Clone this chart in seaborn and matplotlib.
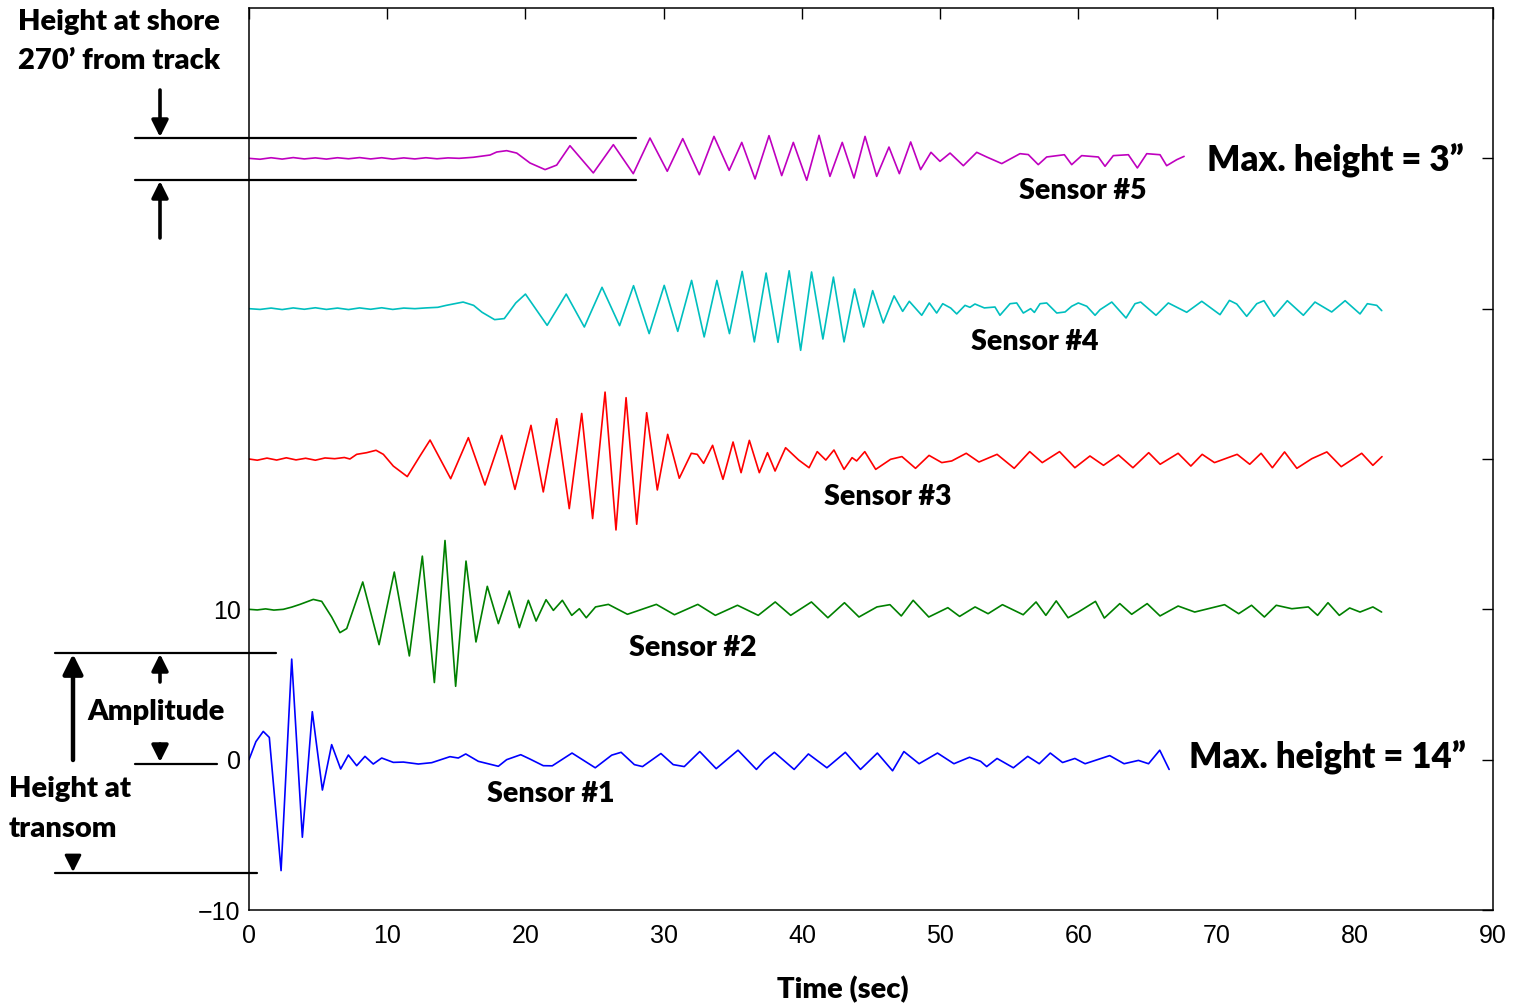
import numpy as np
import pandas as pd
import matplotlib
matplotlib.use("Agg")
import matplotlib.pyplot as plt
import seaborn as sns
from matplotlib.lines import Line2D

# ── Wave heights (time in sec, height relative to each trace) ──
t1 = [0, 0.5, 1.03, 1.47, 2.32, 3.09, 3.86, 4.58, 5.31, 5.98, 6.63, 7.19, 7.79, 8.39, 8.99,
      9.6, 10.44, 11.17, 12.25, 13.22, 14.54, 15.14, 15.68, 16.59, 18.04, 18.64, 19.66, 20.33,
      21.29, 21.94, 23.37, 25.05, 26.24, 26.92, 27.88, 28.47, 29.8, 30.69, 31.49, 32.61, 33.8,
      35.38, 36.71, 37.3, 38.01, 39.44, 40.47, 41.81, 43.14, 44.24, 45.46, 46.56, 47.38, 48.48,
      49.81, 51.0, 52.13, 52.93, 53.37, 54.12, 55.3, 56.34, 57.17, 57.97, 58.86, 59.75, 60.49,
      62.27, 63.31, 64.35, 65.08, 65.89, 66.57]
v1 = [0, 1.2, 1.88, 1.48, -7.38, 6.69, -5.16, 3.19, -2.02, 1.0, -0.62, 0.31, -0.40, 0.22, -0.29,
      0.11, -0.18, -0.16, -0.29, -0.2, 0.2, 0.11, 0.38, -0.11, -0.44, 0, 0.33, 0.04,
      -0.4, -0.41, 0.44, -0.54, 0.3, 0.49, -0.33, -0.46, 0.41, -0.33, -0.46, 0.54, -0.6,
      0.63, -0.65, -0.05, 0.49, -0.65, 0.38, -0.54, 0.49, -0.65, 0.44, -0.74, 0.54, -0.27,
      0.44, -0.27, 0.16, -0.11, -0.46, 0.08, -0.54, 0.22, -0.27, 0.44, -0.19, 0.08, -0.27,
      0.27, -0.27, -0.05, -0.27, 0.63, -0.65]

t2 = [0, 0.6, 1.2, 1.8, 2.48, 3.1, 3.69, 4.65, 5.26, 5.98, 6.58, 7.07, 8.23, 9.41, 10.51, 11.6,
      12.54, 13.41, 14.18, 14.95, 15.7, 16.42, 17.24, 18.04, 18.83, 19.56, 20.21, 20.77, 21.49,
      22.02, 22.67, 23.35, 23.9, 24.4, 25.07, 26.0, 27.38, 29.47, 30.78, 32.47, 33.74, 35.34,
      36.84, 38.07, 39.19, 40.69, 41.88, 43.08, 44.13, 45.43, 46.37, 47.19, 48.05, 49.18, 50.56,
      51.41, 52.53, 53.47, 54.51, 56.01, 56.94, 57.65, 58.4, 59.26, 60.0, 61.24, 61.88, 63.0,
      63.86, 64.98, 65.91, 67.22, 68.42, 70.58, 71.6, 72.53, 73.46, 74.32, 75.45, 76.64, 77.31,
      78.06, 78.88, 79.63, 80.38, 81.31, 81.94]
v2 = [0, -0.04, 0.03, -0.05, 0.0, 0.15, 0.33, 0.66, 0.53, -0.51, -1.55, -1.28, 1.82, -2.35, 2.48,
      -3.1, 3.54, -4.87, 4.58, -5.12, 3.21, -2.17, 1.53, -0.95, 1.22, -1.22, 0.6, -0.78, 0.64,
      -0.07, 0.6, -0.4, 0.04, -0.56, 0.16, 0.33, -0.33, 0.33, -0.36, 0.33, -0.4, 0.27, -0.4,
      0.49, -0.4, 0.49, -0.56, 0.44, -0.51, 0.16, 0.31, -0.44, 0.6, -0.51, 0.11, -0.47, 0.16,
      -0.29, 0.31, -0.36, 0.49, -0.4, 0.56, -0.56, -0.18, 0.53, -0.58, 0.38, -0.33, 0.38, -0.44,
      0.22, -0.18, 0.31, -0.29, 0.27, -0.51, 0.27, 0.04, 0.16, -0.4, 0.44, -0.4, 0.09, -0.18,
      0.16, -0.18]

t3 = [0, 0.6, 1.3, 2.0, 2.7, 3.4, 4.1, 4.8, 5.5, 6.2, 6.9, 7.3, 7.79, 8.51, 9.19, 9.72, 10.44,
      11.45, 12.37, 13.1, 14.59, 15.87, 17.07, 18.28, 19.24, 20.4, 21.29, 22.26, 23.17, 24.07,
      24.86, 25.76, 26.55, 27.28, 28.05, 28.77, 29.54, 30.29, 31.13, 32.0, 32.43, 32.89, 33.54,
      34.29, 35.02, 35.6, 36.2, 36.92, 37.51, 38.06, 38.82, 39.77, 40.52, 41.11, 41.73, 42.32,
      43.05, 43.63, 43.96, 44.55, 45.34, 46.42, 47.24, 48.22, 49.2, 50.12, 50.84, 51.89, 52.81,
      54.12, 55.36, 56.48, 57.39, 58.64, 59.75, 60.84, 61.82, 62.9, 63.95, 65.09, 65.92, 67.22,
      68.14, 68.96, 69.85, 71.49, 72.4, 73.22, 74.04, 74.92, 75.81, 76.89, 77.98, 79.02, 80.5,
      81.31, 81.97]
v3 = [0, -0.08, 0.06, -0.07, 0.08, -0.06, 0.05, -0.08, 0.07, 0.02, 0.1, 0.0, 0.31, 0.42, 0.58,
      0.31, -0.47, -1.17, 0.2, 1.26, -1.31, 1.42, -1.73, 1.57, -2.02, 2.24, -2.19, 2.68, -3.3,
      3.03, -3.96, 4.45, -4.72, 4.08, -4.34, 3.08, -2.06, 1.64, -1.28, 0.38, 0.31, -0.29, 0.91,
      -1.35, 1.13, -0.91, 1.24, -0.91, 0.42, -0.8, 0.75, -0.07, -0.58, 0.49, -0.07, 0.6, -0.69,
      0.09, -0.13, 0.49, -0.69, -0.02, 0.16, -0.62, 0.24, -0.24, -0.13, 0.38, -0.2, 0.31, -0.62,
      0.49, -0.24, 0.49, -0.58, 0.2, -0.42, 0.27, -0.58, 0.42, -0.35, 0.38, -0.47, 0.31, -0.24,
      0.31, -0.35, 0.38, -0.58, 0.47, -0.62, 0.02, 0.47, -0.51, 0.38, -0.42, 0.16]

t4 = [0, 0.8, 1.6, 2.4, 3.2, 4.0, 4.8, 5.6, 6.4, 7.2, 8.0, 8.8, 9.6, 10.4, 11.2, 12.0, 12.8,
      13.66, 14.27, 15.49, 16.25, 16.86, 17.77, 18.47, 19.3, 20.0, 21.57, 22.95, 24.26, 25.54,
      26.81, 27.82, 28.95, 30.04, 31.02, 32.02, 32.93, 33.85, 34.76, 35.68, 36.56, 37.41, 38.27,
      39.08, 39.91, 40.7, 41.52, 42.28, 43.05, 43.81, 44.47, 45.12, 45.89, 46.67, 47.29, 47.77,
      48.67, 49.22, 49.75, 50.19, 50.77, 51.2, 51.8, 52.16, 52.52, 53.2, 53.97, 54.33, 55.06,
      55.54, 56.02, 56.55, 56.82, 57.23, 57.71, 58.44, 59.04, 59.52, 60.0, 60.61, 61.21, 61.57,
      62.42, 63.45, 64.1, 64.51, 65.62, 66.51, 67.84, 68.93, 70.25, 70.93, 71.46, 72.18, 72.91,
      73.43, 74.16, 75.12, 76.28, 77.12, 78.33, 79.3, 80.38, 80.91, 81.59, 81.95]
v4 = [0, -0.05, 0.04, -0.06, 0.05, -0.04, 0.06, -0.05, 0.04, -0.06, 0.05, -0.04, 0.06, -0.05,
      0.04, 0.0, 0.05, 0.09, 0.22, 0.44, 0.22, -0.24, -0.73, -0.66, 0.38, 0.97, -1.11, 0.97,
      -1.22, 1.42, -1.13, 1.53, -1.66, 1.55, -1.51, 1.88, -1.88, 1.88, -1.66, 2.48, -2.21, 2.37,
      -2.24, 2.52, -2.77, 2.44, -2.02, 2.1, -2.21, 1.31, -1.22, 1.2, -0.95, 0.85, -0.18, 0.49,
      -0.44, 0.38, -0.29, 0.33, 0.04, -0.35, 0.22, 0.09, 0.31, 0.05, 0.11, -0.44, 0.33, 0.38,
      -0.29, 0.0, -0.25, 0.33, 0.38, -0.29, -0.22, 0.16, 0.38, 0.16, -0.44, -0.07, 0.44, -0.62,
      0.33, 0.44, -0.44, 0.38, -0.24, 0.49, -0.4, 0.55, 0.31, -0.51, 0.33, 0.53, -0.51, 0.53,
      -0.44, 0.44, -0.22, 0.53, -0.35, 0.33, 0.22, -0.13]

t5 = [0, 0.8, 1.6, 2.4, 3.2, 4.0, 4.8, 5.6, 6.4, 7.2, 8.0, 8.8, 9.6, 10.4, 11.2, 12.0, 12.8,
      13.6, 14.4, 15.2, 16.23, 17.44, 17.92, 18.64, 19.37, 20.33, 21.42, 22.26, 23.22, 24.91,
      26.36, 27.8, 29.01, 30.26, 31.38, 32.58, 33.64, 34.74, 35.65, 36.61, 37.62, 38.54, 39.38,
      40.35, 41.24, 42.03, 42.92, 43.77, 44.57, 45.41, 46.3, 47.05, 47.87, 48.59, 49.34, 49.99,
      50.72, 51.68, 52.65, 53.37, 54.46, 55.78, 56.38, 57.1, 57.71, 58.99, 59.52, 60.24, 61.45,
      61.93, 62.53, 63.62, 64.27, 64.95, 65.91, 66.39, 67.12, 67.65]
v5 = [0, -0.06, 0.04, -0.05, 0.05, -0.04, 0.03, -0.05, 0.04, -0.03, 0.05, -0.04, 0.04, -0.05,
      0.03, -0.04, 0.04, -0.03, 0.03, 0.0, 0.07, 0.22, 0.42, 0.51, 0.35, -0.31, -0.75, -0.45,
      0.84, -0.97, 0.91, -1.02, 1.35, -0.86, 1.31, -1.09, 1.46, -0.8, 1.06, -1.37, 1.51, -1.15,
      1.06, -1.46, 1.53, -1.2, 1.06, -1.31, 1.46, -1.2, 0.75, -1.02, 1.09, -0.75, 0.4, -0.2,
      0.35, -0.49, 0.4, 0.09, -0.35, 0.31, 0.25, -0.42, 0.09, 0.24, -0.42, 0.18, 0.09, -0.53,
      0.18, 0.24, -0.64, 0.31, 0.24, -0.49, -0.09, 0.13]

sensors = ["Sensor #1", "Sensor #2", "Sensor #3", "Sensor #4", "Sensor #5"]
offsets = [0, 10, 20, 30, 40]
colors = ["#0000ff", "#008000", "#ff0000", "#00bfbf", "#bf00bf"]

# long-form table, each trace shifted up by its offset
frames = []
for name, t, v, off in zip(sensors, [t1, t2, t3, t4, t5], [v1, v2, v3, v4, v5], offsets):
    frames.append(pd.DataFrame({"time": t, "height": np.array(v) + off, "sensor": name}))
df = pd.concat(frames, ignore_index=True)

# ── Figure ──────────────────────────────────────────────────────────
W, H = 1515, 1007
sns.set_theme(style="white")
plt.rcParams["font.family"] = ["Liberation Sans", "DejaVu Sans"]
BOLD = dict(family=["Lato", "DejaVu Sans"], fontweight="heavy", color="black")

fig = plt.figure(figsize=(W / 100, H / 100), dpi=100)
ax = fig.add_axes([249 / W, 1 - 910 / H, (1493 - 249) / W, (910 - 8) / H])

sns.lineplot(data=df, x="time", y="height", hue="sensor", palette=colors,
             estimator=None, sort=False, legend=False, lw=1.2, ax=ax)
for ln in ax.lines:
    ln.set_solid_joinstyle("round")

ax.set_xlim(0, 90)
ax.set_ylim(-10, 50)
ax.set_xticks(range(0, 91, 10))
ax.set_yticks([-10, 0, 10, 20, 30, 40])
ax.set_yticklabels(["\u221210", "0", "10", "", "", ""])
ax.tick_params(direction="in", length=8, width=1, top=True, right=True,
               labelsize=18, colors="black")
ax.tick_params(axis="x", pad=10)
ax.tick_params(axis="y", pad=6)
for s in ax.spines.values():
    s.set_visible(True)
    s.set_color("black")
    s.set_linewidth(1.1)
ax.set_xlabel("")
ax.set_ylabel("")


# ── Annotations (positions in figure pixels, top-left origin) ───────
def hline(x0, x1, y):
    fig.add_artist(Line2D([x0 / W, x1 / W], [1 - y / H, 1 - y / H],
                          color="black", lw=1.6, zorder=5))


def arrow(x, y_from, y_to, lw, hl, hw):
    ax.annotate("", xy=(x, H - y_to), xytext=(x, H - y_from),
                xycoords="figure pixels", textcoords="figure pixels",
                arrowprops=dict(arrowstyle=f"-|>,head_length={hl},head_width={hw}",
                                lw=lw, color="black", shrinkA=0, shrinkB=0,
                                mutation_scale=20),
                annotation_clip=False)


def label(x, y, s, size, ha="left"):
    fig.text(x / W, 1 - y / H, s, ha=ha, va="center", fontsize=size, **BOLD)


# shore bracket
hline(135, 636, 138)
hline(135, 636, 180)
arrow(160, 90, 137, 2.6, 0.5, 0.25)
arrow(160, 238, 181, 2.6, 0.5, 0.25)

# transom brackets
hline(55, 276, 653)
hline(55, 257, 873)
hline(135, 217, 764)
arrow(73, 760, 654, 3.2, 0.6, 0.3)
arrow(160, 682, 654, 2.6, 0.5, 0.25)
arrow(160, 744, 762, 2.6, 0.5, 0.25)
arrow(73, 858, 872, 2.0, 0.5, 0.25)

label(18, 22, "Height at shore", 21)
label(18, 61, "270\u2019 from track", 21)
label(87, 712, "Amplitude", 21)
label(9, 789, "Height at", 21)
label(9, 829, "transom", 21)

label(551, 794, "Sensor #1", 20.5, ha="center")
label(693, 648, "Sensor #2", 20.5, ha="center")
label(888, 497, "Sensor #3", 20.5, ha="center")
label(1035, 342, "Sensor #4", 20.5, ha="center")
label(1083, 191, "Sensor #5", 20.5, ha="center")

label(1207, 160, "Max. height = 3\u201d", 25)
label(1189, 757, "Max. height = 14\u201d", 25)

label(843, 990, "Time (sec)", 21, ha="center")

fig.savefig("out.png", dpi=100)
